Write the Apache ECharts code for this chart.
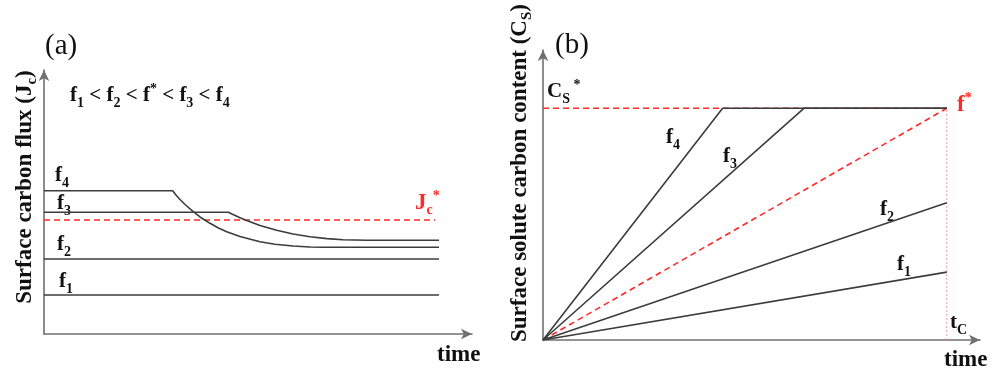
<!DOCTYPE html>
<html>
<head>
<meta charset="utf-8">
<script src="https://cdn.jsdelivr.net/npm/echarts@6/dist/echarts.min.js"></script>
<style>
html,body{margin:0;padding:0;background:#fff;}
#chart{width:1002px;height:386px;}
</style>
</head>
<body>
<div id="chart"></div>
<script>
// ---------- Panel (a): surface carbon flux vs time (axis units 0..100) ----------
const aF1Time = [0, 92.3];
const aF1Flux = [14.8, 14.8];
const aF2Time = [0, 92.3];
const aF2Flux = [28.4, 28.4];
const aF3Time = [0, 43.06, 44.16, 45.79, 47.36, 50.47, 54.37, 58.18, 62.15, 66.12, 69.86, 75.4, 92.3];
const aF3Flux = [46.1, 46.1, 45.23, 44.02, 43.0, 41.1, 39.28, 37.88, 36.86, 36.14, 35.68, 35.49, 35.49];
const aF4Time = [0, 30.07, 30.84, 31.78, 32.94, 34.88, 36.45, 38.79, 40.65, 42.69, 45.79, 50.47, 53.97, 58.18, 62.15, 65.19, 92.3];
const aF4Flux = [54.28, 54.28, 52.65, 50.95, 49.05, 46.33, 44.32, 41.93, 40.23, 38.75, 36.93, 34.96, 34.02, 33.33, 32.95, 32.84, 32.84];
const aJcStarTime = [0, 91.4];
const aJcStarFlux = [43.2, 43.2];

// ---------- Panel (b): surface solute carbon content vs time (axis units 0..100) ----------
const bF1Time = [0, 92.4];
const bF1Cs = [0, 23.4];
const bF2Time = [0, 92.4];
const bF2Cs = [0, 47.3];
const bF3Time = [0, 59.7, 92.4];
const bF3Cs = [0, 79.9, 79.9];
const bF4Time = [0, 41.1, 92.4];
const bF4Cs = [0, 79.9, 79.9];
const bFStarTime = [0, 92.4];
const bFStarCs = [0, 79.9];
const bCsStarTime = [0, 92.4];
const bCsStarCs = [79.9, 79.9];
const bTcTime = [92.4, 92.4];
const bTcCs = [0, 79.9];

const zip = (xs, ys) => xs.map((x, i) => [x, ys[i]]);

const SERIF = '"Liberation Serif","Times New Roman",serif';
const BLACK = '#3c3c3c';
const RED = '#ff2a2a';
const INK = '#111';

const rich = {
  b: {fontFamily: SERIF, fontWeight: 'bold', fontSize: 21, lineHeight: 28, fill: INK},
  s: {fontFamily: SERIF, fontWeight: 'bold', fontSize: 14, lineHeight: 14, verticalAlign: 'bottom', fill: INK},
  p: {fontFamily: SERIF, fontWeight: 'bold', fontSize: 14, lineHeight: 14, verticalAlign: 'top', fill: INK},
  rb: {fontFamily: SERIF, fontWeight: 'bold', fontSize: 23, lineHeight: 28, fill: RED},
  rs: {fontFamily: SERIF, fontWeight: 'bold', fontSize: 14, lineHeight: 14, verticalAlign: 'bottom', fill: RED},
  rp: {fontFamily: SERIF, fontWeight: 'bold', fontSize: 14, lineHeight: 14, verticalAlign: 'top', fill: RED},
  t: {fontFamily: SERIF, fontWeight: 'bold', fontSize: 23, lineHeight: 30, fill: INK},
  ts: {fontFamily: SERIF, fontWeight: 'bold', fontSize: 15, lineHeight: 15, verticalAlign: 'bottom', fill: INK}
};

function txt(x, y, text, extra) {
  return Object.assign({
    type: 'text', x: x, y: y, silent: true,
    style: {text: text, rich: rich, align: 'left', verticalAlign: 'middle'}
  }, extra || {});
}

function blackLine(name, xi, data) {
  return {name: name, type: 'line', xAxisIndex: xi, yAxisIndex: xi, data: data,
    symbol: 'none', lineStyle: {color: BLACK, width: 1.6}, z: 3, animation: false};
}
function redLine(name, xi, data, type, width, color) {
  return {name: name, type: 'line', xAxisIndex: xi, yAxisIndex: xi, data: data,
    symbol: 'none', lineStyle: {color: color || RED, width: width || 1.6, type: type}, z: 2, animation: false};
}

const axisCommon = {
  type: 'value', min: 0, max: 100,
  axisLine: {show: true, symbol: ['none', 'arrow'], symbolSize: [8, 11], lineStyle: {color: '#707070', width: 1.6}},
  axisTick: {show: false}, axisLabel: {show: false}, splitLine: {show: false}
};

const option = {
  backgroundColor: '#fff',
  animation: false,
  grid: [
    {left: 44, right: 530, top: 70, bottom: 52},
    {left: 543, right: 22, top: 50, bottom: 46}
  ],
  xAxis: [Object.assign({gridIndex: 0}, axisCommon), Object.assign({gridIndex: 1}, axisCommon)],
  yAxis: [Object.assign({gridIndex: 0}, axisCommon), Object.assign({gridIndex: 1}, axisCommon)],
  series: [
    redLine('Jc*', 0, zip(aJcStarTime, aJcStarFlux), [6, 4]),
    blackLine('f1', 0, zip(aF1Time, aF1Flux)),
    blackLine('f2', 0, zip(aF2Time, aF2Flux)),
    blackLine('f3', 0, zip(aF3Time, aF3Flux)),
    blackLine('f4', 0, zip(aF4Time, aF4Flux)),
    redLine('tC', 1, zip(bTcTime, bTcCs), [2, 2], 1, '#f39a9a'),
    redLine('Cs*', 1, zip(bCsStarTime, bCsStarCs), [6, 4]),
    redLine('f*', 1, zip(bFStarTime, bFStarCs), [6, 4]),
    blackLine('f1b', 1, zip(bF1Time, bF1Cs)),
    blackLine('f2b', 1, zip(bF2Time, bF2Cs)),
    blackLine('f3b', 1, zip(bF3Time, bF3Cs)),
    blackLine('f4b', 1, zip(bF4Time, bF4Cs))
  ],
  graphic: [
    // panel letters
    {type: 'text', x: 45, y: 46, silent: true, style: {text: '(a)', fontFamily: SERIF, fontSize: 29, fill: INK, verticalAlign: 'middle'}},
    {type: 'text', x: 555, y: 45, silent: true, style: {text: '(b)', fontFamily: SERIF, fontSize: 29, fill: INK, verticalAlign: 'middle'}},
    // axis titles
    txt(25, 187, '', {rotation: Math.PI / 2, style: {text: '{t|Surface carbon flux (J}{ts|c}{t|)}', rich: rich, align: 'center', verticalAlign: 'middle'}}),
    txt(520, 173, '', {rotation: Math.PI / 2, style: {text: '{t|Surface solute carbon content (C}{ts|S}{t|)}', rich: rich, align: 'center', verticalAlign: 'middle'}}),
    // time labels
    {type: 'text', x: 437, y: 355, silent: true, style: {text: 'time', fontFamily: SERIF, fontWeight: 'bold', fontSize: 23, fill: INK, verticalAlign: 'middle'}},
    {type: 'text', x: 944, y: 360, silent: true, style: {text: 'time', fontFamily: SERIF, fontWeight: 'bold', fontSize: 23, fill: INK, verticalAlign: 'middle'}},
    // panel (a) labels
    txt(70, 96, '{b|f}{s|1}{b| < f}{s|2}{b| < f}{p|*}{b| < f}{s|3}{b| < f}{s|4}'),
    txt(55, 176, '{b|f}{s|4}'),
    txt(57, 204, '{b|f}{s|3}'),
    txt(57, 245, '{b|f}{s|2}'),
    txt(59, 282, '{b|f}{s|1}'),
    txt(415, 203, '{rb|J}{rs|c}{rp|*}'),
    // panel (b) labels
    txt(547, 92, '{b|C}{s|S}{p| *}'),
    txt(666, 138, '{b|f}{s|4}'),
    txt(723, 157, '{b|f}{s|3}'),
    txt(880, 210, '{b|f}{s|2}'),
    txt(897, 265, '{b|f}{s|1}'),
    txt(957, 105, '{rb|f}{rp|*}'),
    txt(950, 323, '{b|t}{s|C}')
  ]
};

const chart = echarts.init(document.getElementById('chart'), null, {renderer: 'canvas'});
chart.setOption(option);
</script>
</body>
</html>
